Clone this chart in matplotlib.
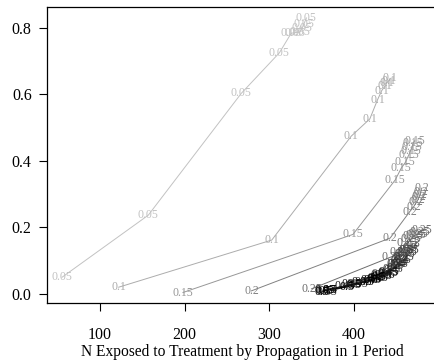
import matplotlib
matplotlib.use("Agg")
import matplotlib.pyplot as plt
import numpy as np

plt.rcParams['font.family'] = ['Liberation Serif', 'DejaVu Serif']

# propagation probability groups (label shown at each point)
groups = ["0.05", "0.1", "0.15", "0.2", "0.25", "0.3", "0.35", "0.4", "0.45", "0.5"]

x_005 = [55, 157, 267, 312, 326, 331, 336, 339, 341, 344]
y_005 = [0.049, 0.236, 0.603, 0.725, 0.784, 0.786, 0.787, 0.800, 0.812, 0.830]

x_010 = [122, 303, 397, 419, 428, 433, 437, 439, 441, 443]
y_010 = [0.019, 0.161, 0.474, 0.526, 0.583, 0.611, 0.625, 0.635, 0.640, 0.648]

x_015 = [198, 399, 449, 456, 461, 465, 467, 469, 470, 472]
y_015 = [0.003, 0.178, 0.342, 0.377, 0.395, 0.417, 0.430, 0.442, 0.452, 0.460]

x_020 = [279, 443, 466, 471, 474, 476, 477, 478, 479, 480]
y_020 = [0.008, 0.167, 0.246, 0.262, 0.275, 0.283, 0.290, 0.296, 0.305, 0.317]

x_025 = [350, 445, 455, 463, 467, 470, 473, 476, 478, 480]
y_025 = [0.014, 0.111, 0.124, 0.151, 0.163, 0.172, 0.176, 0.180, 0.186, 0.191]

x_030 = [363, 400, 430, 447, 455, 460, 463, 466, 468, 470]
y_030 = [0.008, 0.030, 0.060, 0.090, 0.110, 0.122, 0.130, 0.138, 0.144, 0.150]

x_035 = [368, 405, 432, 446, 452, 456, 459, 461, 463, 465]
y_035 = [0.006, 0.028, 0.055, 0.075, 0.090, 0.100, 0.110, 0.118, 0.124, 0.130]

x_040 = [372, 410, 425, 437, 444, 448, 451, 453, 455, 457]
y_040 = [0.010, 0.035, 0.045, 0.060, 0.070, 0.078, 0.085, 0.090, 0.095, 0.100]

x_045 = [366, 390, 398, 410, 420, 428, 433, 437, 440, 442]
y_045 = [0.012, 0.022, 0.028, 0.035, 0.042, 0.048, 0.053, 0.057, 0.061, 0.065]

x_050 = [362, 367, 372, 392, 400, 415, 420, 424, 427, 430]
y_050 = [0.005, 0.008, 0.012, 0.020, 0.026, 0.036, 0.040, 0.044, 0.047, 0.050]

xs = [x_005, x_010, x_015, x_020, x_025, x_030, x_035, x_040, x_045, x_050]
ys = [y_005, y_010, y_015, y_020, y_025, y_030, y_035, y_040, y_045, y_050]

x_ticks = [100, 200, 300, 400]
y_ticks = [0.0, 0.2, 0.4, 0.6, 0.8]
x_label = "N Exposed to Treatment by Propagation in 1 Period"

fig = plt.figure(figsize=(4.34, 3.62), dpi=100)
ax = fig.add_axes([47/434, 1 - 303/362, (434 - 47)/434 + 0.01, (303 - 7)/362])

levels = np.linspace(0.76, 0.0, len(groups))
for i, (g, xv, yv) in enumerate(zip(groups, xs, ys)):
    c = str(levels[i])
    ax.plot(xv, yv, color=c, lw=0.7, zorder=2)
    for xx, yy in zip(xv, yv):
        ax.text(xx, yy, g, color=c, fontsize=8.5, ha='center', va='center', zorder=3)

ax.set_xlim(37.2, 500)
ax.set_ylim(-0.0286, 0.863)
ax.set_xticks(x_ticks)
ax.set_yticks(y_ticks)
ax.set_yticklabels([f"{v:.1f}" for v in y_ticks])
ax.tick_params(axis='x', direction='out', length=6, width=0.8, pad=11, labelsize=11.5)
ax.tick_params(axis='y', direction='out', length=6, width=0.8, pad=5, labelsize=11.5)
ax.spines['right'].set_visible(False)
for s in ['left', 'bottom', 'top']:
    ax.spines[s].set_linewidth(0.9)
ax.set_xlabel(x_label, fontsize=11.2, labelpad=1)

fig.savefig("out.png", dpi=100)
